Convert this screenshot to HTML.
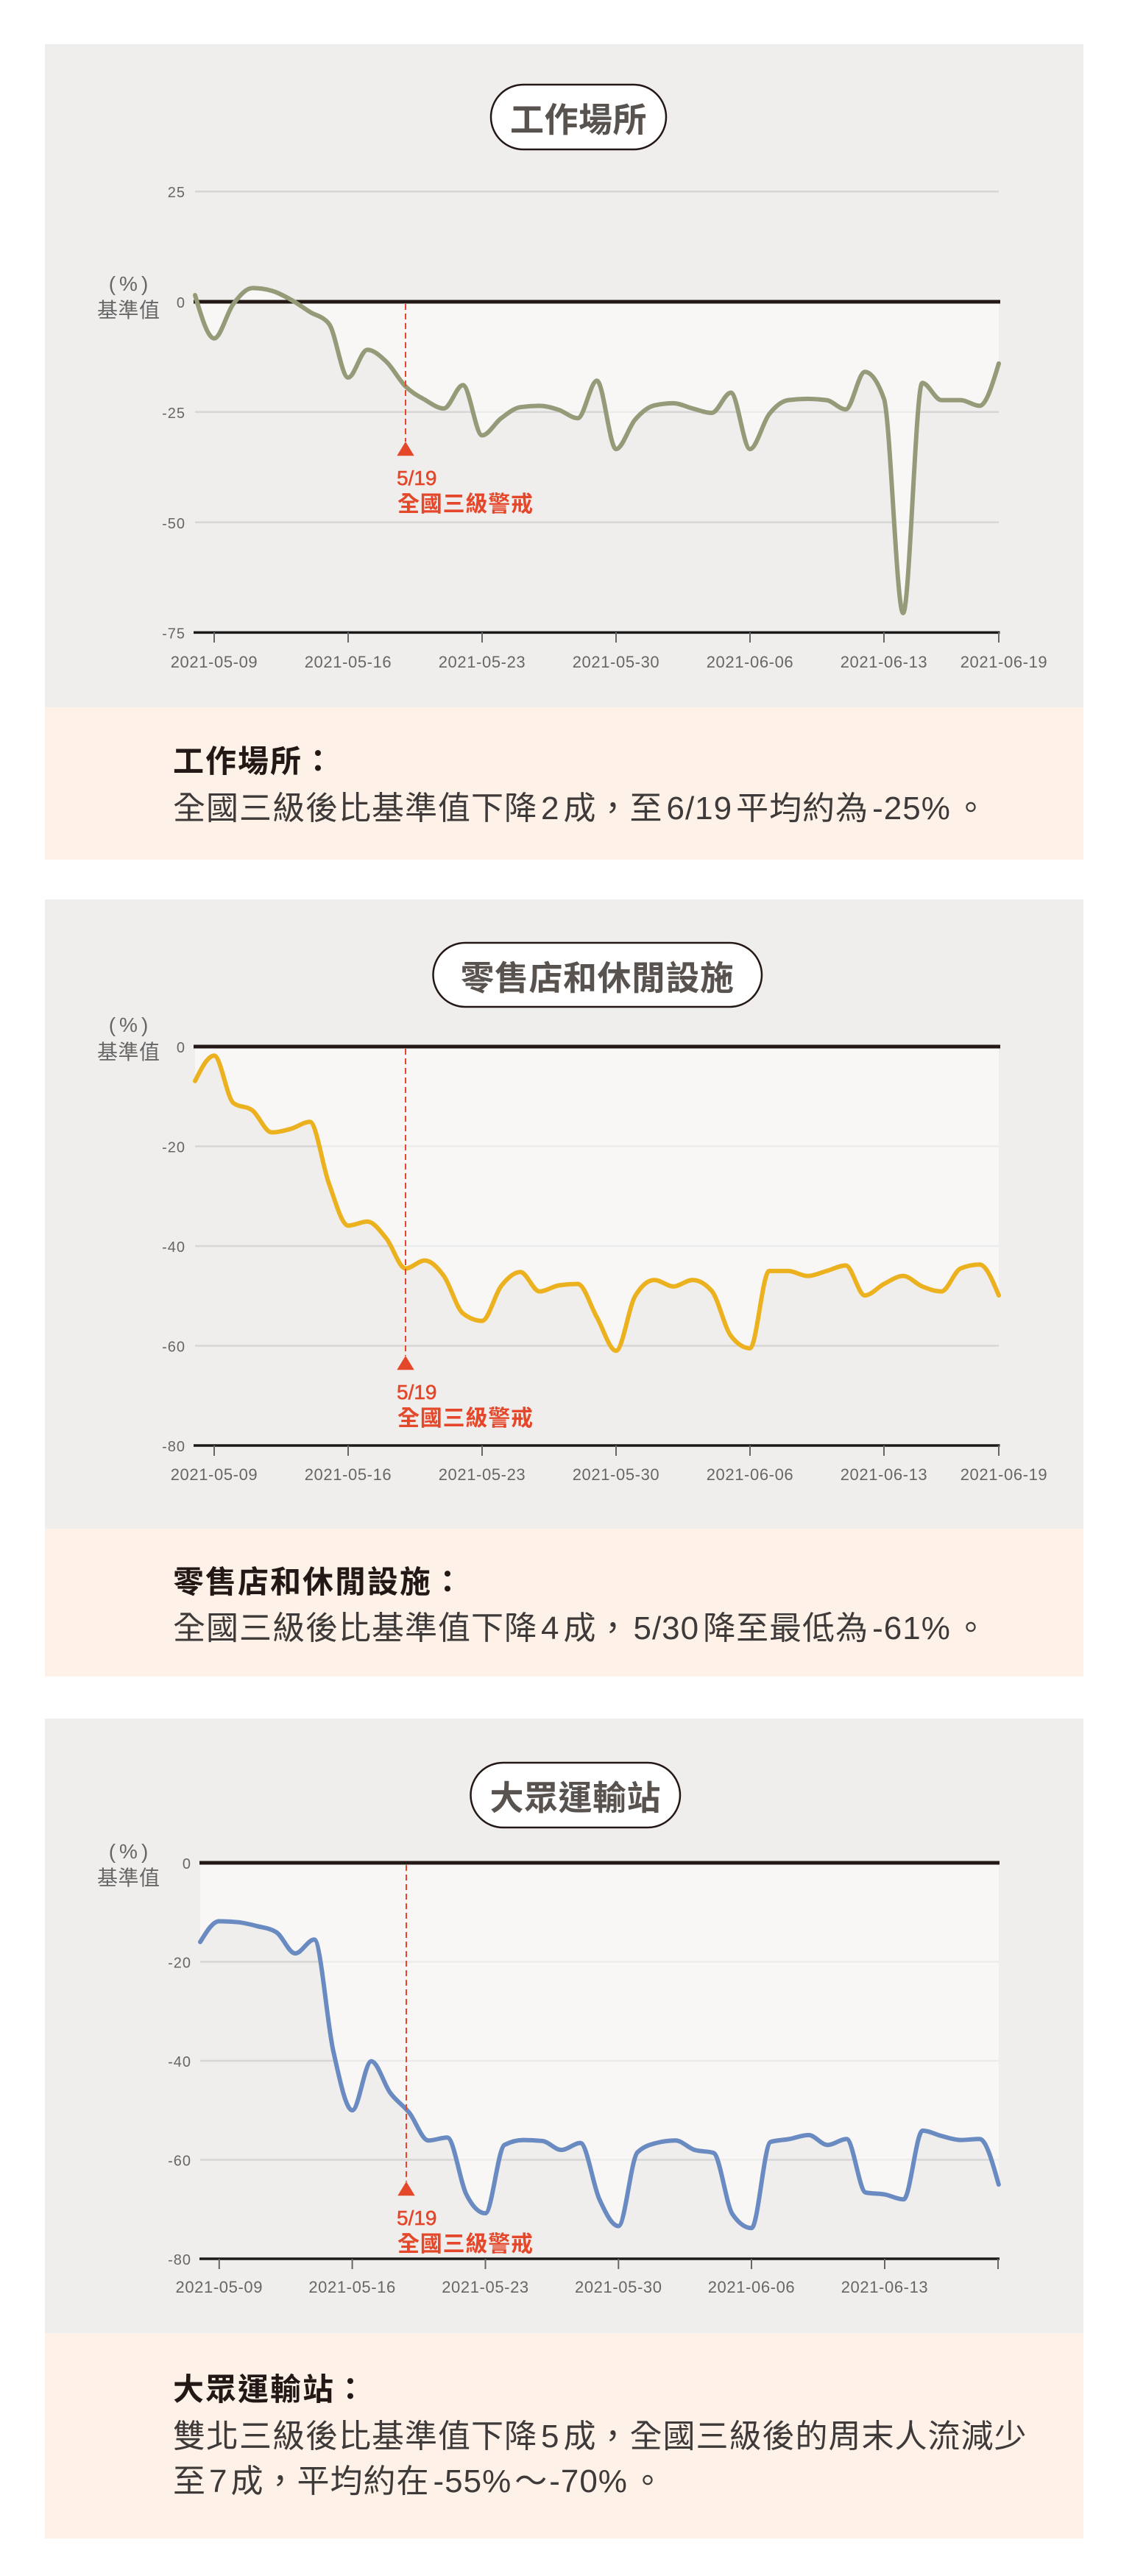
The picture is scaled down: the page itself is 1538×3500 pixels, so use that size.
<!DOCTYPE html>
<html>
<head>
<meta charset="utf-8">
<style>
html,body{margin:0;padding:0;background:#fff;}
body{width:1538px;height:3500px;overflow:hidden;}
svg{display:block;}
.yl{font-family:"Liberation Sans","Noto Sans CJK TC",sans-serif;font-size:20px;fill:#666;letter-spacing:1px;text-anchor:end;}
.xl{font-family:"Liberation Sans","Noto Sans CJK TC",sans-serif;font-size:22px;fill:#666;letter-spacing:0.6px;text-anchor:middle;}
.unit{font-family:"Liberation Sans","Noto Sans CJK TC",sans-serif;font-size:28px;fill:#666;}
.ttl{font-family:"Liberation Sans","Noto Sans CJK TC",sans-serif;font-size:46px;font-weight:700;fill:#595350;text-anchor:middle;letter-spacing:0.5px;}
.red1{font-family:"Liberation Sans","Noto Sans CJK TC",sans-serif;font-size:28px;fill:#e4472a;stroke:#e4472a;stroke-width:0.6px;}
.red2{font-family:"Liberation Sans","Noto Sans CJK TC",sans-serif;font-size:30px;font-weight:700;fill:#e4472a;letter-spacing:0.8px;}
.pt{font-family:"Liberation Sans","Noto Sans CJK TC",sans-serif;font-size:42px;font-weight:700;fill:#231815;letter-spacing:2px;}
.pb{font-family:"Liberation Sans","Noto Sans CJK TC",sans-serif;font-size:44px;fill:#3e3a39;letter-spacing:1px;}
.grid{stroke:#d6d6d6;stroke-width:2.5;}
.zero{stroke:#231815;stroke-width:5;}
.axis{stroke:#1a1a1a;stroke-width:3.5;}
.tick{stroke:#666;stroke-width:2;}
.dash{stroke:#e4472a;stroke-width:2;stroke-dasharray:8 5;}
</style>
</head>
<body>
<svg width="1538" height="3500" viewBox="0 0 1538 3500" xmlns="http://www.w3.org/2000/svg">
<rect x="0" y="0" width="1538" height="3500" fill="#fff"/>

<!-- ================= PANEL 1 ================= -->
<rect x="61" y="60" width="1411" height="901" fill="#f0eeec"/>
<rect x="61" y="961" width="1411" height="207" fill="#fdf1e8"/>
<rect x="667" y="115" width="238" height="88" rx="44" fill="#fff" stroke="#231815" stroke-width="2.5"/>
<text class="ttl" x="786" y="179">工作場所</text>

<line class="grid" x1="265" y1="260.2" x2="1357" y2="260.2"/>
<line class="grid" x1="265" y1="559.8" x2="1357" y2="559.8"/>
<line class="grid" x1="265" y1="709.6" x2="1357" y2="709.6"/>
<path id="f1" fill="#ffffff" fill-opacity="0.55" d=""/>
<line class="zero" x1="263" y1="410" x2="1359" y2="410"/>
<line class="axis" x1="263" y1="859.4" x2="1358.5" y2="859.4"/>
<g class="tick">
<line x1="291" y1="859" x2="291" y2="873"/><line x1="473" y1="859" x2="473" y2="873"/>
<line x1="655" y1="859" x2="655" y2="873"/><line x1="837" y1="859" x2="837" y2="873"/>
<line x1="1019" y1="859" x2="1019" y2="873"/><line x1="1201" y1="859" x2="1201" y2="873"/>
<line x1="1357" y1="859" x2="1357" y2="873"/>
</g>
<text class="xl" x="291" y="907">2021-05-09</text>
<text class="xl" x="473" y="907">2021-05-16</text>
<text class="xl" x="655" y="907">2021-05-23</text>
<text class="xl" x="837" y="907">2021-05-30</text>
<text class="xl" x="1019" y="907">2021-06-06</text>
<text class="xl" x="1201" y="907">2021-06-13</text>
<text class="xl" x="1364" y="907">2021-06-19</text>
<text class="yl" x="252" y="268">25</text>
<text class="yl" x="252" y="418">0</text>
<text class="yl" x="252" y="568">-25</text>
<text class="yl" x="252" y="718">-50</text>
<text class="yl" x="252" y="867.5">-75</text>
<text class="unit" x="177" y="395" text-anchor="middle" letter-spacing="5">(%)</text>
<text class="unit" x="132" y="431" letter-spacing="0.5">基準值</text>
<path id="c1" fill="none" stroke="#959a78" stroke-width="6" stroke-linejoin="round" stroke-linecap="round" d=""/>
<line class="dash" x1="551" y1="413" x2="551" y2="600"/>
<polygon points="551,600 539.3,619.3 562.7,619.3" fill="#e4472a"/>
<text class="red1" x="539" y="659">5/19</text>
<text class="red2" x="540" y="695">全國三級警戒</text>

<text class="pt" x="235" y="1049">工作場所：</text>
<text class="pb" x="235" y="1113">全國三級後比基準值下降<tspan dx="5">2</tspan><tspan dx="5">成，至</tspan><tspan dx="5">6/19</tspan><tspan dx="5">平均約為</tspan><tspan dx="5">-25%</tspan><tspan dx="5">。</tspan></text>

<!-- ================= PANEL 2 ================= -->
<rect x="61" y="1222" width="1411" height="855" fill="#f0eeec"/>
<rect x="61" y="2077" width="1411" height="201" fill="#fdf1e8"/>
<rect x="588.5" y="1281" width="446.5" height="87" rx="43.5" fill="#fff" stroke="#231815" stroke-width="2.5"/>
<text class="ttl" x="811.5" y="1345">零售店和休閒設施</text>

<line class="grid" x1="265" y1="1557.5" x2="1357" y2="1557.5"/>
<line class="grid" x1="265" y1="1693" x2="1357" y2="1693"/>
<line class="grid" x1="265" y1="1828.5" x2="1357" y2="1828.5"/>
<path id="f2" fill="#ffffff" fill-opacity="0.55" d=""/>
<line class="zero" x1="263" y1="1422" x2="1359" y2="1422"/>
<line class="axis" x1="263" y1="1964" x2="1358.5" y2="1964"/>
<g class="tick">
<line x1="291" y1="1964" x2="291" y2="1978"/><line x1="473" y1="1964" x2="473" y2="1978"/>
<line x1="655" y1="1964" x2="655" y2="1978"/><line x1="837" y1="1964" x2="837" y2="1978"/>
<line x1="1019" y1="1964" x2="1019" y2="1978"/><line x1="1201" y1="1964" x2="1201" y2="1978"/>
<line x1="1357" y1="1964" x2="1357" y2="1978"/>
</g>
<text class="xl" x="291" y="2011">2021-05-09</text>
<text class="xl" x="473" y="2011">2021-05-16</text>
<text class="xl" x="655" y="2011">2021-05-23</text>
<text class="xl" x="837" y="2011">2021-05-30</text>
<text class="xl" x="1019" y="2011">2021-06-06</text>
<text class="xl" x="1201" y="2011">2021-06-13</text>
<text class="xl" x="1364" y="2011">2021-06-19</text>
<text class="yl" x="252" y="1430">0</text>
<text class="yl" x="252" y="1565.5">-20</text>
<text class="yl" x="252" y="1701">-40</text>
<text class="yl" x="252" y="1836.5">-60</text>
<text class="yl" x="252" y="1972">-80</text>
<text class="unit" x="177" y="1402" text-anchor="middle" letter-spacing="5">(%)</text>
<text class="unit" x="132" y="1439" letter-spacing="0.5">基準值</text>
<path id="c2" fill="none" stroke="#ebb11f" stroke-width="6" stroke-linejoin="round" stroke-linecap="round" d=""/>
<line class="dash" x1="551" y1="1425" x2="551" y2="1842"/>
<polygon points="551,1842 539.3,1861.3 562.7,1861.3" fill="#e4472a"/>
<text class="red1" x="539" y="1901">5/19</text>
<text class="red2" x="540" y="1937">全國三級警戒</text>

<text class="pt" x="235" y="2164">零售店和休閒設施：</text>
<text class="pb" x="235" y="2227">全國三級後比基準值下降<tspan dx="5">4</tspan><tspan dx="5">成，</tspan><tspan dx="5">5/30</tspan><tspan dx="5">降至最低為</tspan><tspan dx="5">-61%</tspan><tspan dx="5">。</tspan></text>

<!-- ================= PANEL 3 ================= -->
<rect x="61" y="2335" width="1411" height="835" fill="#f0eeec"/>
<rect x="61" y="3170" width="1411" height="279" fill="#fdf1e8"/>
<rect x="639.5" y="2395" width="284.5" height="88" rx="44" fill="#fff" stroke="#231815" stroke-width="2.5"/>
<text class="ttl" x="781.75" y="2459">大眾運輸站</text>

<line class="grid" x1="272" y1="2665.5" x2="1357" y2="2665.5"/>
<line class="grid" x1="272" y1="2800" x2="1357" y2="2800"/>
<line class="grid" x1="272" y1="2934.5" x2="1357" y2="2934.5"/>
<path id="f3" fill="#ffffff" fill-opacity="0.55" d=""/>
<line class="zero" x1="271" y1="2531" x2="1358" y2="2531"/>
<line class="axis" x1="271" y1="3069" x2="1358" y2="3069"/>
<g class="tick">
<line x1="297.8" y1="3069" x2="297.8" y2="3083"/><line x1="478.6" y1="3069" x2="478.6" y2="3083"/>
<line x1="659.5" y1="3069" x2="659.5" y2="3083"/><line x1="840.3" y1="3069" x2="840.3" y2="3083"/>
<line x1="1021" y1="3069" x2="1021" y2="3083"/><line x1="1202" y1="3069" x2="1202" y2="3083"/>
<line x1="1356" y1="3069" x2="1356" y2="3083"/>
</g>
<text class="xl" x="297.8" y="3115">2021-05-09</text>
<text class="xl" x="478.6" y="3115">2021-05-16</text>
<text class="xl" x="659.5" y="3115">2021-05-23</text>
<text class="xl" x="840.3" y="3115">2021-05-30</text>
<text class="xl" x="1021" y="3115">2021-06-06</text>
<text class="xl" x="1202" y="3115">2021-06-13</text>
<text class="yl" x="260" y="2539">0</text>
<text class="yl" x="260" y="2673.5">-20</text>
<text class="yl" x="260" y="2808">-40</text>
<text class="yl" x="260" y="2942.5">-60</text>
<text class="yl" x="260" y="3077">-80</text>
<text class="unit" x="177" y="2525" text-anchor="middle" letter-spacing="5">(%)</text>
<text class="unit" x="132" y="2561" letter-spacing="0.5">基準值</text>
<path id="c3" fill="none" stroke="#6a8bc1" stroke-width="6" stroke-linejoin="round" stroke-linecap="round" d=""/>
<line class="dash" x1="552" y1="2534" x2="552" y2="2964"/>
<polygon points="552,2964 540.3,2983.3 563.7,2983.3" fill="#e4472a"/>
<text class="red1" x="539" y="3023">5/19</text>
<text class="red2" x="540" y="3059">全國三級警戒</text>

<text class="pt" x="235" y="3261">大眾運輸站：</text>
<text class="pb" x="235" y="3325">雙北三級後比基準值下降<tspan dx="5">5</tspan><tspan dx="5">成，全國三級後的周末人流減少</tspan></text>
<text class="pb" x="235" y="3386">至<tspan dx="4">7</tspan><tspan dx="4">成，平均約在</tspan><tspan dx="5">-55%</tspan><tspan dx="4">～</tspan><tspan dx="2">-70%</tspan><tspan dx="5">。</tspan></text>
</svg>

<script>
(function(){
  function mono(xs, ys){
    var n = xs.length, s = [], t = new Array(n), i;
    for(i=0;i<n-1;i++){ s[i] = (ys[i+1]-ys[i])/(xs[i+1]-xs[i]); }
    for(i=1;i<n-1;i++){
      var h0 = xs[i]-xs[i-1], h1 = xs[i+1]-xs[i], s0 = s[i-1], s1 = s[i];
      var p = (s0*h1 + s1*h0)/(h0+h1);
      t[i] = (Math.sign(s0)+Math.sign(s1)) * Math.min(Math.abs(s0), Math.abs(s1), 0.5*Math.abs(p)) || 0;
    }
    t[0] = (3*s[0]-t[1])/2;
    t[n-1] = (3*s[n-2]-t[n-2])/2;
    var d = "M" + xs[0].toFixed(2) + "," + ys[0].toFixed(2);
    for(i=0;i<n-1;i++){
      var dx = (xs[i+1]-xs[i])/3;
      d += " C" + (xs[i]+dx).toFixed(2) + "," + (ys[i]+dx*t[i]).toFixed(2) + " " +
           (xs[i+1]-dx).toFixed(2) + "," + (ys[i+1]-dx*t[i+1]).toFixed(2) + " " +
           xs[i+1].toFixed(2) + "," + ys[i+1].toFixed(2);
    }
    return d;
  }
  function draw(id, data, x0, dx, y0, k){
    var xs = [], ys = [];
    for(var i=0;i<data.length;i++){ xs.push(x0 + dx*i); ys.push(y0 - k*data[i]); }
    var d = mono(xs, ys);
    document.getElementById("c"+id).setAttribute("d", d);
    var f = d + " L" + xs[xs.length-1].toFixed(2) + "," + y0 + " L" + xs[0].toFixed(2) + "," + y0 + " Z";
    document.getElementById("f"+id).setAttribute("d", f);
  }
  var p1 = [1.5,-8.3,-0.5,3.1,2.5,0.5,-2.3,-5,-17.2,-10.9,-13.6,-19.2,-22.2,-24.2,-18.9,-30.3,-26.4,-23.9,-23.6,-24.5,-26.4,-17.9,-33.4,-26.7,-23.5,-23,-24.2,-25.2,-20.6,-33.4,-25.5,-22.3,-22,-22.3,-24.4,-15.9,-22,-70.6,-18.4,-22.3,-22.3,-23.6,-14];
  var p2 = [-6.9,-1.8,-11.3,-12.8,-17.2,-16.5,-15.1,-27.5,-35.9,-35.1,-38.5,-44.5,-42.9,-46,-53.5,-55,-48,-45.2,-49.1,-47.9,-47.6,-54.3,-61,-50,-46.8,-48.1,-46.8,-49,-58,-60.5,-45,-45,-46,-45,-43.9,-49.9,-47.6,-46,-48.1,-49.1,-44.5,-43.7,-49.9];
  var p3 = [-16,-11.8,-12,-12.8,-14,-18.3,-15.5,-38,-50,-40.1,-46.5,-50.5,-56.1,-55.5,-67,-70.8,-57,-56,-56.2,-58,-56.6,-68,-73.4,-58.5,-56.6,-56.1,-58,-58.6,-71,-73.8,-56.4,-55.8,-55,-57,-55.8,-66.6,-67,-68,-54.1,-55.2,-56,-55.8,-65];
  draw(1, p1, 265, 26, 410, 5.992);
  draw(2, p2, 265, 26, 1422, 6.775);
  draw(3, p3, 272, 25.83, 2531, 6.725);
})();
</script>
</body>
</html>
